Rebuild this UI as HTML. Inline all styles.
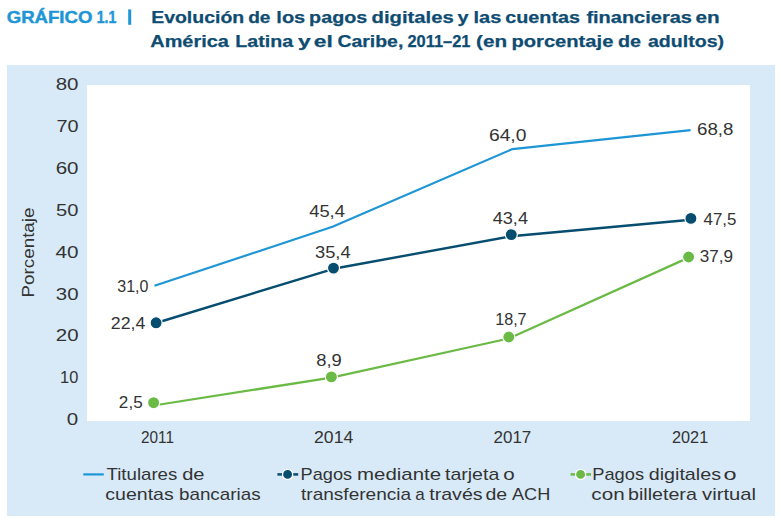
<!DOCTYPE html>
<html><head><meta charset="utf-8">
<style>
html,body{margin:0;padding:0;background:#fff;width:781px;height:522px;overflow:hidden}
svg{display:block;font-family:"Liberation Sans",sans-serif}
</style></head><body>
<svg width="781" height="522" viewBox="0 0 781 522">
<rect x="7" y="65" width="768" height="451" fill="#D8EAF8"/>
<rect x="87" y="85" width="663" height="336" fill="#FFFFFF"/>
<rect x="128.2" y="9.4" width="3" height="15.4" fill="#1E96D6"/>
<text transform="translate(34.1,297.5) rotate(-90)" font-size="16.8px" fill="#333333" textLength="90" lengthAdjust="spacingAndGlyphs">Porcentaje</text>
<polyline points="154.5,285.8 332.5,226.8 512.4,149.05 690.6,130.2" fill="none" stroke="#1E96D6" stroke-width="2.2" stroke-linejoin="round"/>
<polyline points="156.1,323.0 333.5,268.8 511.3,236.2 690.9,219.7" fill="none" stroke="#064D70" stroke-width="2.4" stroke-linejoin="round"/>
<polyline points="153.6,405.5 331.4,377.6 508.8,338.5 688.6,257.6" fill="none" stroke="#6ABA45" stroke-width="2.25" stroke-linejoin="round"/>
<circle cx="156.1" cy="322.8" r="6.05" fill="#064D70" stroke="#fff" stroke-width="1.2"/>
<circle cx="333.5" cy="268.1" r="6.05" fill="#064D70" stroke="#fff" stroke-width="1.2"/>
<circle cx="511.3" cy="234.6" r="6.05" fill="#064D70" stroke="#fff" stroke-width="1.2"/>
<circle cx="690.9" cy="218.4" r="6.05" fill="#064D70" stroke="#fff" stroke-width="1.2"/>
<circle cx="153.6" cy="402.7" r="6.05" fill="#6ABA45" stroke="#fff" stroke-width="1.2"/>
<circle cx="331.4" cy="376.9" r="6.05" fill="#6ABA45" stroke="#fff" stroke-width="1.2"/>
<circle cx="508.8" cy="337" r="6.05" fill="#6ABA45" stroke="#fff" stroke-width="1.2"/>
<circle cx="688.6" cy="257" r="6.05" fill="#6ABA45" stroke="#fff" stroke-width="1.2"/>
<line x1="83.3" y1="474.4" x2="103.8" y2="474.4" stroke="#1E96D6" stroke-width="2.2"/>
<line x1="277.4" y1="474.4" x2="298.2" y2="474.4" stroke="#064D70" stroke-width="2.5"/>
<circle cx="287.6" cy="474.4" r="5.1" fill="#064D70" stroke="#fff" stroke-width="1.3"/>
<line x1="570.6" y1="474.4" x2="591" y2="474.4" stroke="#6ABA45" stroke-width="2.5"/>
<circle cx="580.6" cy="474.4" r="5.1" fill="#6ABA45" stroke="#fff" stroke-width="1.3"/>
<text x="55.68" y="90.40" font-size="16.8px" fill="#333333" textLength="22.85" lengthAdjust="spacingAndGlyphs">80</text>
<text x="56.42" y="132.24" font-size="16.8px" fill="#333333" textLength="22.08" lengthAdjust="spacingAndGlyphs">70</text>
<text x="55.68" y="174.08" font-size="16.8px" fill="#333333" textLength="22.85" lengthAdjust="spacingAndGlyphs">60</text>
<text x="56.10" y="215.92" font-size="16.8px" fill="#333333" textLength="22.41" lengthAdjust="spacingAndGlyphs">50</text>
<text x="55.50" y="257.76" font-size="16.8px" fill="#333333" textLength="23.03" lengthAdjust="spacingAndGlyphs">40</text>
<text x="55.78" y="299.60" font-size="16.8px" fill="#333333" textLength="22.74" lengthAdjust="spacingAndGlyphs">30</text>
<text x="55.78" y="341.44" font-size="16.8px" fill="#333333" textLength="22.74" lengthAdjust="spacingAndGlyphs">20</text>
<text x="60.12" y="383.28" font-size="16.8px" fill="#333333" textLength="18.23" lengthAdjust="spacingAndGlyphs">10</text>
<text x="66.68" y="425.12" font-size="16.8px" fill="#333333" textLength="11.45" lengthAdjust="spacingAndGlyphs">0</text>
<text x="140.99" y="443.00" font-size="16.8px" fill="#333333" textLength="33.02" lengthAdjust="spacingAndGlyphs">2011</text>
<text x="314.05" y="443.00" font-size="16.8px" fill="#333333" textLength="39.21" lengthAdjust="spacingAndGlyphs">2014</text>
<text x="493.49" y="443.00" font-size="16.8px" fill="#333333" textLength="37.86" lengthAdjust="spacingAndGlyphs">2017</text>
<text x="672.03" y="443.00" font-size="16.8px" fill="#333333" textLength="36.20" lengthAdjust="spacingAndGlyphs">2021</text>
<text x="117.25" y="292.00" font-size="16.8px" fill="#333333" textLength="31.20" lengthAdjust="spacingAndGlyphs">31,0</text>
<text x="110.84" y="329.00" font-size="16.8px" fill="#333333" textLength="34.57" lengthAdjust="spacingAndGlyphs">22,4</text>
<text x="118.88" y="407.90" font-size="16.8px" fill="#333333" textLength="23.77" lengthAdjust="spacingAndGlyphs">2,5</text>
<text x="309.20" y="216.90" font-size="16.8px" fill="#333333" textLength="35.73" lengthAdjust="spacingAndGlyphs">45,4</text>
<text x="315.01" y="258.10" font-size="16.8px" fill="#333333" textLength="35.62" lengthAdjust="spacingAndGlyphs">35,4</text>
<text x="316.20" y="365.90" font-size="16.8px" fill="#333333" textLength="25.57" lengthAdjust="spacingAndGlyphs">8,9</text>
<text x="488.95" y="141.10" font-size="16.8px" fill="#333333" textLength="37.52" lengthAdjust="spacingAndGlyphs">64,0</text>
<text x="492.70" y="223.90" font-size="16.8px" fill="#333333" textLength="35.33" lengthAdjust="spacingAndGlyphs">43,4</text>
<text x="495.14" y="324.70" font-size="16.8px" fill="#333333" textLength="31.51" lengthAdjust="spacingAndGlyphs">18,7</text>
<text x="697.09" y="134.60" font-size="16.8px" fill="#333333" textLength="36.36" lengthAdjust="spacingAndGlyphs">68,8</text>
<text x="703.50" y="224.80" font-size="16.8px" fill="#333333" textLength="32.88" lengthAdjust="spacingAndGlyphs">47,5</text>
<text x="699.78" y="262.40" font-size="16.8px" fill="#333333" textLength="33.30" lengthAdjust="spacingAndGlyphs">37,9</text>
<text x="106.50" y="479.70" font-size="16.6px" fill="#333333" textLength="70.82" lengthAdjust="spacingAndGlyphs">Titulares</text>
<text x="182.19" y="479.70" font-size="16.6px" fill="#333333" textLength="22.38" lengthAdjust="spacingAndGlyphs">de</text>
<text x="105.32" y="499.90" font-size="16.6px" fill="#333333" textLength="68.42" lengthAdjust="spacingAndGlyphs">cuentas</text>
<text x="178.97" y="499.90" font-size="16.6px" fill="#333333" textLength="81.58" lengthAdjust="spacingAndGlyphs">bancarias</text>
<text x="300.60" y="479.70" font-size="16.6px" fill="#333333" textLength="51.56" lengthAdjust="spacingAndGlyphs">Pagos</text>
<text x="357.07" y="479.70" font-size="16.6px" fill="#333333" textLength="84.06" lengthAdjust="spacingAndGlyphs">mediante</text>
<text x="445.00" y="479.70" font-size="16.6px" fill="#333333" textLength="54.25" lengthAdjust="spacingAndGlyphs">tarjeta</text>
<text x="503.36" y="479.70" font-size="16.6px" fill="#333333" textLength="11.43" lengthAdjust="spacingAndGlyphs">o</text>
<text x="301.00" y="499.90" font-size="16.6px" fill="#333333" textLength="110.13" lengthAdjust="spacingAndGlyphs">transferencia</text>
<text x="415.18" y="499.90" font-size="16.6px" fill="#333333" textLength="9.47" lengthAdjust="spacingAndGlyphs">a</text>
<text x="429.20" y="499.90" font-size="16.6px" fill="#333333" textLength="53.42" lengthAdjust="spacingAndGlyphs">través</text>
<text x="485.42" y="499.90" font-size="16.6px" fill="#333333" textLength="21.73" lengthAdjust="spacingAndGlyphs">de</text>
<text x="512.00" y="499.90" font-size="16.6px" fill="#333333" textLength="38.35" lengthAdjust="spacingAndGlyphs">ACH</text>
<text x="592.20" y="479.70" font-size="16.6px" fill="#333333" textLength="51.87" lengthAdjust="spacingAndGlyphs">Pagos</text>
<text x="648.71" y="479.70" font-size="16.6px" fill="#333333" textLength="72.35" lengthAdjust="spacingAndGlyphs">digitales</text>
<text x="723.59" y="479.70" font-size="16.6px" fill="#333333" textLength="13.04" lengthAdjust="spacingAndGlyphs">o</text>
<text x="591.36" y="499.90" font-size="16.6px" fill="#333333" textLength="33.30" lengthAdjust="spacingAndGlyphs">con</text>
<text x="628.02" y="499.90" font-size="16.6px" fill="#333333" textLength="68.83" lengthAdjust="spacingAndGlyphs">billetera</text>
<text x="702.10" y="499.90" font-size="16.6px" fill="#333333" textLength="53.94" lengthAdjust="spacingAndGlyphs">virtual</text>
<text x="6.71" y="22.70" font-size="17px" font-weight="bold" stroke="#1E96D6" stroke-width="0.45" fill="#1E96D6" textLength="85.72" lengthAdjust="spacingAndGlyphs">GRÁFICO</text>
<text x="96.77" y="22.70" font-size="17px" font-weight="bold" stroke="#1E96D6" stroke-width="0.45" fill="#1E96D6" textLength="19.56" lengthAdjust="spacingAndGlyphs">1.1</text>
<text x="151.15" y="22.60" font-size="17px" font-weight="bold" stroke="#0E4C72" stroke-width="0.25" fill="#0E4C72" textLength="93.06" lengthAdjust="spacingAndGlyphs">Evolución</text>
<text x="248.18" y="22.60" font-size="17px" font-weight="bold" stroke="#0E4C72" stroke-width="0.25" fill="#0E4C72" textLength="22.25" lengthAdjust="spacingAndGlyphs">de</text>
<text x="276.32" y="22.60" font-size="17px" font-weight="bold" stroke="#0E4C72" stroke-width="0.25" fill="#0E4C72" textLength="28.94" lengthAdjust="spacingAndGlyphs">los</text>
<text x="309.14" y="22.60" font-size="17px" font-weight="bold" stroke="#0E4C72" stroke-width="0.25" fill="#0E4C72" textLength="58.09" lengthAdjust="spacingAndGlyphs">pagos</text>
<text x="371.61" y="22.60" font-size="17px" font-weight="bold" stroke="#0E4C72" stroke-width="0.25" fill="#0E4C72" textLength="82.14" lengthAdjust="spacingAndGlyphs">digitales</text>
<text x="457.40" y="22.60" font-size="17px" font-weight="bold" stroke="#0E4C72" stroke-width="0.25" fill="#0E4C72" textLength="11.05" lengthAdjust="spacingAndGlyphs">y</text>
<text x="473.52" y="22.60" font-size="17px" font-weight="bold" stroke="#0E4C72" stroke-width="0.25" fill="#0E4C72" textLength="27.83" lengthAdjust="spacingAndGlyphs">las</text>
<text x="505.24" y="22.60" font-size="17px" font-weight="bold" stroke="#0E4C72" stroke-width="0.25" fill="#0E4C72" textLength="74.75" lengthAdjust="spacingAndGlyphs">cuentas</text>
<text x="586.40" y="22.60" font-size="17px" font-weight="bold" stroke="#0E4C72" stroke-width="0.25" fill="#0E4C72" textLength="105.50" lengthAdjust="spacingAndGlyphs">financieras</text>
<text x="695.58" y="22.60" font-size="17px" font-weight="bold" stroke="#0E4C72" stroke-width="0.25" fill="#0E4C72" textLength="24.14" lengthAdjust="spacingAndGlyphs">en</text>
<text x="150.33" y="46.60" font-size="17px" font-weight="bold" stroke="#0E4C72" stroke-width="0.25" fill="#0E4C72" textLength="78.50" lengthAdjust="spacingAndGlyphs">América</text>
<text x="235.24" y="46.60" font-size="17px" font-weight="bold" stroke="#0E4C72" stroke-width="0.25" fill="#0E4C72" textLength="57.83" lengthAdjust="spacingAndGlyphs">Latina</text>
<text x="297.90" y="46.60" font-size="17px" font-weight="bold" stroke="#0E4C72" stroke-width="0.25" fill="#0E4C72" textLength="12.73" lengthAdjust="spacingAndGlyphs">y</text>
<text x="313.76" y="46.60" font-size="17px" font-weight="bold" stroke="#0E4C72" stroke-width="0.25" fill="#0E4C72" textLength="19.03" lengthAdjust="spacingAndGlyphs">el</text>
<text x="337.46" y="46.60" font-size="17px" font-weight="bold" stroke="#0E4C72" stroke-width="0.25" fill="#0E4C72" textLength="65.88" lengthAdjust="spacingAndGlyphs">Caribe,</text>
<text x="407.43" y="46.60" font-size="17px" font-weight="bold" stroke="#0E4C72" stroke-width="0.25" fill="#0E4C72" textLength="63.01" lengthAdjust="spacingAndGlyphs">2011–21</text>
<text x="476.08" y="46.60" font-size="17px" font-weight="bold" stroke="#0E4C72" stroke-width="0.25" fill="#0E4C72" textLength="31.02" lengthAdjust="spacingAndGlyphs">(en</text>
<text x="511.41" y="46.60" font-size="17px" font-weight="bold" stroke="#0E4C72" stroke-width="0.25" fill="#0E4C72" textLength="101.97" lengthAdjust="spacingAndGlyphs">porcentaje</text>
<text x="618.04" y="46.60" font-size="17px" font-weight="bold" stroke="#0E4C72" stroke-width="0.25" fill="#0E4C72" textLength="23.08" lengthAdjust="spacingAndGlyphs">de</text>
<text x="648.00" y="46.60" font-size="17px" font-weight="bold" stroke="#0E4C72" stroke-width="0.25" fill="#0E4C72" textLength="76.03" lengthAdjust="spacingAndGlyphs">adultos)</text>
</svg>
</body></html>
